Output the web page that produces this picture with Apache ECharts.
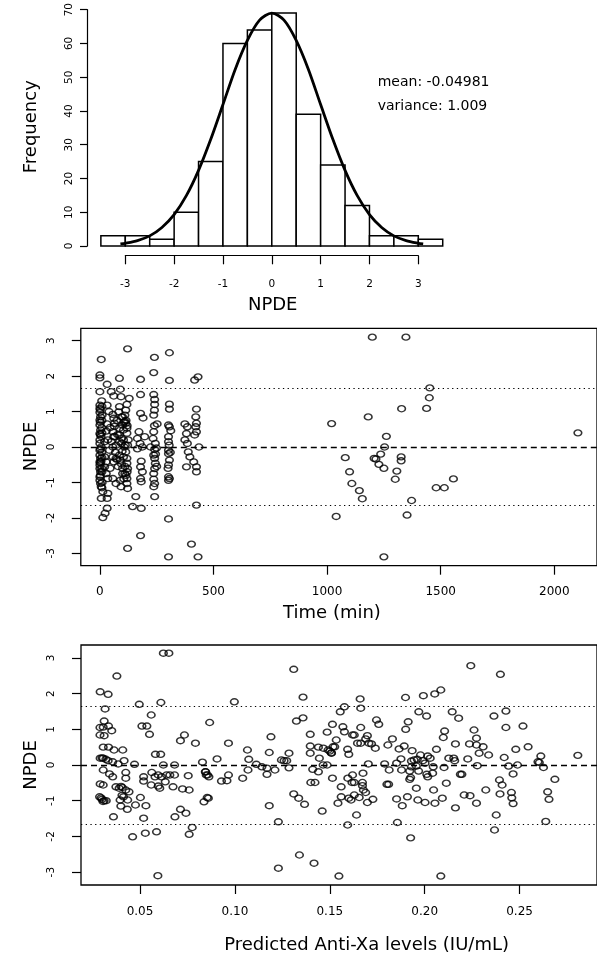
<!DOCTYPE html>
<html><head><meta charset="utf-8">
<script src="https://cdn.jsdelivr.net/npm/echarts@6/dist/echarts.min.js"></script>
<style>html,body{margin:0;padding:0;background:#fff}#c{width:597px;height:960px}</style>
</head><body><div id="c"></div>
<script>
const FONT = 'DejaVu Sans';

// ---- Histogram of NPDE ----
const histBreaks = [-3.5,-3,-2.5,-2,-1.5,-1,-0.5,0,0.5,1,1.5,2,2.5,3,3.5];
const histCounts = [3,3,2,10,25,60,64,69,39,24,12,3,3,2];
const histYTicks = [0,10,20,30,40,50,60,70];
const histXTicks = [-3,-2,-1,0,1,2,3];
// normal density curve
const curveX = [-3.1,-3,-2.75,-2.5,-2.25,-2,-1.75,-1.5,-1.25,-1,-0.75,-0.5,-0.25,0,0.25,0.5,0.75,1,1.25,1.5,1.75,2,2.25,2.5,2.75,3,3.1];
const curveY = [0.6,0.8,1.6,3.0,5.5,9.3,14.9,22.4,31.6,41.9,52.3,60.9,66.9,69.0,66.9,60.9,52.3,41.9,31.6,22.4,14.9,9.3,5.5,3.0,1.6,0.8,0.6];
const statsText = ['mean: -0.04981', 'variance: 1.009'];

// ---- NPDE vs time ----
const timeMin = [122,6,240,306,0,0,86,179,237,306,432,417,32,0,50,61,90,93,129,179,237,241,241,306,306,425,422,0,0,0,3,32,86,83,119,114,57,61,64,179,190,240,237,252,302,312,374,385,422,425,0,0,3,0,32,28,114,119,119,64,57,61,86,86,86,104,104,172,165,177,197,237,234,244,241,306,302,302,381,374,385,425,417,436,0,0,6,0,21,35,50,57,42,71,107,122,114,165,187,223,249,237,302,389,396,0,3,0,0,0,3,21,28,21,57,61,71,86,90,104,119,119,122,182,179,187,241,244,241,237,302,306,302,413,425,425,381,0,0,3,6,28,35,57,71,90,93,119,119,122,179,182,237,241,237,302,306,302,13,6,35,32,158,241,144,182,32,23,13,302,425,179,122,403,302,432,
  75,95,100,110,78,96,112,68,98,80,100,110,65,75,95,8,8,8,8,10,5,10,5,45,45,40,
  2,2,2,2,2,2,9,9,9,9,9,9,100,105,110,115,120,100,105,110,115,120,95,125,240,245,250,305,310,300,
  1199,1347,1452,1450,1438,1328,1181,1020,2104,1261,1253,1236,1080,1207,1215,1326,1326,1228,1250,1099,1307,1300,1109,1556,1480,1516,1142,1155,1372,1352,1040,1250];
const npdeTime = [2.77,2.47,2.53,2.66,2.03,1.95,1.94,1.91,2.10,1.88,1.98,1.89,1.77,1.56,1.56,1.44,1.63,1.42,1.37,1.48,1.48,1.34,1.20,1.21,1.07,1.07,0.85,1.18,1.09,0.98,0.85,1.18,1.14,0.99,1.20,1.04,0.92,0.81,0.67,0.95,0.82,1.04,0.90,0.65,0.62,0.46,0.65,0.57,0.57,0.43,0.76,0.62,0.48,0.38,0.65,0.45,0.67,0.53,0.39,0.58,0.43,0.29,0.53,0.34,0.15,0.48,0.20,0.43,0.24,0.10,0.29,0.43,0.24,0.10,-0.07,0.57,0.29,0.15,0.38,0.20,0.10,0.67,0.34,0.0,0.20,0.10,0.0,-0.09,0.15,0.20,0.15,0.0,-0.09,0.05,0.0,0.05,-0.14,-0.05,0.0,0.0,-0.03,-0.23,-0.09,-0.14,-0.28,-0.23,-0.32,-0.42,-0.51,-0.61,-0.70,-0.28,-0.42,-0.56,-0.28,-0.42,-0.32,-0.23,-0.37,-0.28,-0.32,-0.46,-0.61,-0.40,-0.56,-0.70,-0.32,-0.46,-0.61,-0.75,-0.19,-0.37,-0.51,-0.42,-0.56,-0.70,-0.56,-0.84,-0.94,-1.03,-1.12,-0.75,-0.89,-0.89,-1.03,-0.94,-1.12,-0.89,-1.03,-1.17,-0.89,-0.98,-0.91,-1.03,-1.12,-0.84,-0.89,-0.94,-1.26,-1.45,-1.31,-1.45,-1.40,-1.40,-1.68,-1.73,-1.73,-1.87,-1.99,-2.03,-1.64,-2.50,-2.86,-2.74,-3.10,-3.10,
  0.75,0.85,0.62,0.72,0.35,0.25,0.05,-0.15,-0.12,-0.55,-0.60,-0.75,0.30,-0.35,-0.48,1.30,0.55,-0.15,-0.60,-1.00,0.30,0.90,-0.40,0.55,-0.60,1.00,
  1.05,0.70,0.35,-0.05,-0.45,-0.80,1.15,0.75,0.40,-0.30,-0.70,-1.15,0.85,0.70,0.90,0.75,0.60,-0.75,-0.90,-0.55,-0.80,-0.70,0.10,0.20,0.60,-0.20,-0.55,0.05,-0.15,-0.60,
  3.10,3.10,1.67,1.39,1.09,1.08,0.85,0.66,0.40,0.30,0.0,-0.20,-0.30,-0.32,-0.34,-0.28,-0.39,-0.49,-0.60,-0.70,-0.68,-0.91,-1.03,-0.90,-1.15,-1.15,-1.23,-1.46,-1.51,-1.92,-1.96,-3.10];

// ---- NPDE vs predicted anti-Xa ----
const predAntiXa = [0.0623,0.0652,0.0378,0.0290,0.0332,0.0496,0.0610,0.0316,0.0559,0.0311,0.0289,0.0306,0.0334,0.0351,0.0289,0.0311,0.0510,0.0536,0.0550,0.0713,0.0734,0.0792,0.0306,0.0334,0.0363,0.0409,0.0290,0.0306,0.0332,0.0356,0.0385,0.0416,0.0471,0.0581,0.0609,0.0623,0.0682,0.0829,0.0306,0.0339,0.0356,0.0425,0.0425,0.0519,0.0519,0.0562,0.0579,0.0596,0.0613,0.0640,0.0657,0.0682,0.0559,0.0596,0.0604,0.0633,0.0674,0.0724,0.0759,0.0754,0.0844,0.0856,0.0290,0.0306,0.0373,0.0390,0.0407,0.0425,0.0442,0.0287,0.0300,0.0311,0.0322,0.0395,0.0413,0.0435,0.0399,0.0433,0.0502,0.0476,0.0531,0.0837,0.0854,0.0360,0.0519,0.0684,0.0713,0.0742,0.0775,0.0759,0.0461,0.0528,0.0587,0.0594,0.0300,0.0320,0.0295,0.0305,0.0405,0.0400,
  0.1310,0.1359,0.0997,0.0867,0.1324,0.1359,0.1514,0.1397,0.1486,0.0966,0.1190,0.1066,0.0906,0.1073,0.1181,0.1285,0.1397,0.1397,0.1440,0.1466,0.1491,0.1508,0.1445,0.1113,0.1142,0.1169,0.1245,0.1259,0.1273,0.1285,0.1069,0.1169,0.1211,0.1465,0.1486,0.1410,0.1440,0.0846,0.0849,0.0863,0.0929,0.0958,0.0966,0.1041,0.1400,0.1422,0.1514,0.0860,0.1310,0.1336,0.1367,0.1181,0.1460,0.1229,0.1340,0.1417,0.1229,0.1517,
  0.2085,0.2053,0.1993,0.1899,0.1660,0.1663,0.1577,0.1555,0.1969,0.2010,0.2145,0.2179,0.1913,0.1900,0.1746,0.1758,0.1569,0.1577,0.1620,0.1629,0.1663,0.2105,0.2098,0.1698,0.1689,0.1646,0.1663,0.1706,0.1720,0.1534,0.1526,0.1500,0.1509,0.1740,0.1830,0.1806,0.1892,0.1865,0.2162,0.1594,0.1600,0.2062,0.1934,0.1875,0.1852,0.1978,0.2016,0.2029,0.1990,0.1930,0.1944,0.1961,0.2127,0.2153,0.2158,0.1703,0.1789,0.1813,0.1878,0.1930,0.1956,0.1921,0.1968,0.2002,0.2045,0.2042,0.2011,0.2016,0.2102,0.2188,0.1595,0.1620,0.1629,0.1617,0.1675,0.1672,0.1672,0.1677,0.1689,0.1801,0.1810,0.1926,0.1921,0.1956,0.2047,0.2114,0.1560,0.1560,0.1600,0.1612,0.1629,0.1655,0.1698,0.1727,0.1543,0.1852,0.1882,0.1909,0.1964,0.2002,0.2054,0.2093,0.2162,0.1641,0.1594,0.1856,0.1926,0.1548,0.2085,
  0.2243,0.2399,0.2428,0.2365,0.2428,0.2518,0.2260,0.2273,0.2273,0.2236,0.2308,0.2287,0.2337,0.2480,0.2545,0.2227,0.2419,0.2612,0.2597,0.2604,0.2626,0.2807,0.2277,0.2442,0.2489,0.2466,0.2196,0.2686,0.2394,0.2408,0.2322,0.2208,0.2239,0.2397,0.2457,0.2459,0.2466,0.2648,0.2655,0.2273,0.2377,0.2368,0.2638];
const npdePred = [3.13,3.13,2.49,2.05,1.98,1.70,1.75,1.57,1.40,1.23,1.05,1.06,1.09,0.96,0.84,0.82,1.09,1.09,0.86,0.68,0.84,0.61,0.50,0.50,0.42,0.42,0.19,0.19,0.12,0.09,0.03,0.12,0.02,0.30,0.30,0.00,0.00,0.08,-0.14,-0.25,-0.33,-0.21,-0.37,-0.33,-0.45,-0.21,-0.33,-0.28,-0.33,-0.28,-0.28,-0.28,-0.56,-0.59,-0.65,-0.47,-0.61,-0.67,-0.70,-0.30,-0.19,-0.28,-0.53,-0.56,-0.61,-0.65,-0.63,-0.70,-0.75,-0.89,-0.96,-1.00,-1.00,-0.98,-0.89,-0.98,-1.15,-1.24,-0.91,-1.12,-1.14,-1.03,-0.91,-1.45,-1.49,-1.45,-1.24,-1.35,-1.75,-1.94,-2.01,-1.91,-1.87,-3.10,0.20,0.16,-0.92,-1.02,-0.85,-0.60,
  2.68,1.90,1.77,1.19,1.23,1.32,1.14,0.86,0.92,0.61,0.79,0.42,0.17,0.16,0.35,0.33,0.53,0.33,0.50,0.47,0.42,0.34,0.19,0.02,-0.05,-0.09,0.14,0.12,0.12,-0.08,-0.14,-0.26,-0.14,0.0,0.0,-0.12,-0.19,-0.19,-0.28,-0.33,-0.45,-0.44,-0.28,-0.37,-0.49,-0.49,-0.37,-0.93,-0.81,-0.93,-1.10,-1.14,-1.29,-1.59,-2.52,-2.75,-2.89,0.51,
  2.10,1.99,1.94,1.89,1.85,1.59,1.63,1.49,1.49,1.37,1.49,1.31,1.21,1.00,1.26,1.14,1.07,0.93,0.84,0.84,1.05,0.95,0.77,0.82,0.73,0.61,0.61,0.61,0.59,0.70,0.51,0.39,0.33,0.47,0.73,0.56,0.53,0.45,0.59,0.44,0.30,0.44,0.40,0.17,0.05,0.28,0.25,0.19,0.12,0.11,0.14,0.16,0.19,0.19,0.12,0.03,0.03,-0.14,-0.14,-0.05,-0.03,-0.17,-0.17,0.05,-0.05,-0.23,-0.26,-0.33,-0.07,-0.26,-0.37,-0.28,-0.49,-0.49,-0.23,-0.49,-0.58,-0.70,-0.77,-0.54,-0.54,-0.35,-0.40,-0.65,-0.70,-0.51,-0.61,-0.89,-0.93,-0.98,-0.84,-0.91,-1.05,-0.96,-1.07,-0.95,-1.14,-0.89,-0.98,-1.05,-1.07,-0.93,-1.20,-1.40,-1.68,-1.61,-2.04,-3.11,-3.11,
  2.78,2.54,1.51,1.37,1.05,1.09,0.98,0.75,0.56,0.59,0.51,0.33,0.28,0.44,0.51,0.17,0.21,0.25,0.09,0.07,-0.07,0.27,-0.02,-0.03,0.0,-0.25,-0.26,-0.40,-0.42,-0.56,-0.70,-0.84,-0.86,-0.81,-0.77,-0.92,-1.08,-0.75,-0.96,-1.07,-1.40,-1.82,-1.58];

const npdeTicks = [-3,-2,-1,0,1,2,3];
const timeTicks = [0,500,1000,1500,2000];
const predTicks = [0.05,0.10,0.15,0.20,0.25];
const refLines = [0, 1.645, -1.645];

const K = '#000';
const tickLine = {color: K, width: 1.2};
const lbl = (size, extra) => Object.assign({color: K, fontFamily: FONT, fontSize: size}, extra || {});

function npdeYAxis(gi, min, max) {
  return {type: 'value', gridIndex: gi, min: min, max: max,
    axisLine: {show: false, onZero: false}, splitLine: {show: false},
    axisTick: {show: true, inside: false, length: 9, customValues: npdeTicks, lineStyle: tickLine},
    axisLabel: lbl(10.5, {customValues: npdeTicks, rotate: 90, margin: 24, formatter: v => String(v)})};
}
function circles(xs, ys, xi) {
  return {type: 'scatter', xAxisIndex: xi, yAxisIndex: xi, silent: true,
    data: xs.map((x, i) => [x, ys[i]]), symbol: 'circle', symbolSize: [7.6, 6.1],
    itemStyle: {color: 'rgba(0,0,0,0)', borderColor: K, borderWidth: 1.45},
    emphasis: {disabled: true}, z: 3,
    markLine: {silent: true, symbol: 'none', label: {show: false}, animation: false,
      data: refLines.map(v => ({yAxis: v, lineStyle: v === 0 ? {type: [6, 4], width: 1.3, color: K} : {type: [1.3, 3.4], width: 1.1, color: K}}))}};
}
function txt(x, y, text, size, rot, align) {
  return {type: 'text', x: x, y: y, rotation: rot || 0, silent: true,
    style: {text: text, x: 0, y: 0, fontSize: size, fontFamily: FONT, fill: K,
      align: align || 'center', verticalAlign: 'middle', textAlign: align || 'center', textVerticalAlign: 'middle'}};
}

const chart = echarts.init(document.getElementById('c'));
chart.setOption({
  animation: false,
  backgroundColor: '#fff',
  grid: [
    {left: 87.3, top: 6.8, width: 369, height: 239.2},
    {left: 125.3, top: 250, width: 293, height: 5.7},
    {left: 80.8, top: 328.3, width: 525.3, height: 237.4, show: true, borderColor: K, borderWidth: 1.3, backgroundColor: 'transparent'},
    {left: 81, top: 645, width: 527, height: 240, show: true, borderColor: K, borderWidth: 1.3, backgroundColor: 'transparent'}
  ],
  xAxis: [
    {type: 'value', gridIndex: 0, min: -3.778, max: 3.778, show: false, axisLine: {onZero: false}},
    {type: 'value', gridIndex: 1, min: -3, max: 3, interval: 1,
      axisLine: {show: true, onZero: false, lineStyle: tickLine}, splitLine: {show: false},
      axisTick: {length: 8.6, lineStyle: tickLine}, axisLabel: lbl(10.5, {margin: 23, formatter: v => String(v)})},
    {type: 'value', gridIndex: 2, min: -84, max: 2188, axisLine: {show: false, onZero: false}, splitLine: {show: false},
      axisTick: {show: true, length: 9, customValues: timeTicks, lineStyle: tickLine},
      axisLabel: lbl(12, {customValues: timeTicks, margin: 20, formatter: v => String(v)})},
    {type: 'value', gridIndex: 3, min: 0.0189, max: 0.2908, axisLine: {show: false, onZero: false}, splitLine: {show: false},
      axisTick: {show: true, length: 9, customValues: predTicks, lineStyle: tickLine},
      axisLabel: lbl(12, {customValues: predTicks, margin: 21, formatter: v => v.toFixed(2)})}
  ],
  yAxis: [
    {type: 'value', gridIndex: 0, min: 0, max: 70, interval: 10,
      axisLine: {show: true, onZero: false, lineStyle: tickLine}, splitLine: {show: false},
      axisTick: {length: 7.3, lineStyle: tickLine}, axisLabel: lbl(10.5, {rotate: 90, margin: 13, formatter: v => String(v)})},
    {type: 'value', gridIndex: 1, min: 0, max: 1, show: false, axisLine: {onZero: false}},
    npdeYAxis(2, -3.35, 3.35),
    npdeYAxis(3, -3.36, 3.36)
  ],
  series: [
    {type: 'custom', xAxisIndex: 0, yAxisIndex: 0, silent: true, clip: false, z: 2,
      data: histCounts.map((c, i) => [histBreaks[i], histBreaks[i + 1], c]),
      encode: {x: [0, 1], y: 2},
      renderItem: function (params, api) {
        const p0 = api.coord([api.value(0), api.value(2)]);
        const p1 = api.coord([api.value(1), 0]);
        return {type: 'rect', shape: {x: p0[0], y: p0[1], width: p1[0] - p0[0], height: p1[1] - p0[1]},
          style: {fill: '#fff', stroke: K, lineWidth: 1.5}};
      }},
    {type: 'line', xAxisIndex: 0, yAxisIndex: 0, silent: true, z: 4,
      data: curveX.map((x, i) => [x, curveY[i]]), smooth: 0.3, showSymbol: false, symbol: 'none',
      lineStyle: {color: K, width: 2.8}},
    {type: 'scatter', xAxisIndex: 1, yAxisIndex: 1, data: []},
    circles(timeMin, npdeTime, 2),
    circles(predAntiXa, npdePred, 3)
  ],
  graphic: [
    txt(31.7, 126.7, 'Frequency', 18, Math.PI / 2),
    txt(272.7, 305, 'NPDE', 18, 0),
    txt(377.7, 82.7, statsText[0], 14, 0, 'left'),
    txt(377.7, 106, statsText[1], 14, 0, 'left'),
    txt(31.7, 446.5, 'NPDE', 18, Math.PI / 2),
    txt(332, 613.8, 'Time (min)', 18, 0),
    txt(31.7, 765, 'NPDE', 18, Math.PI / 2),
    txt(366.6, 945.6, 'Predicted Anti-Xa levels (IU/mL)', 18, 0)
  ]
});
</script></body></html>
